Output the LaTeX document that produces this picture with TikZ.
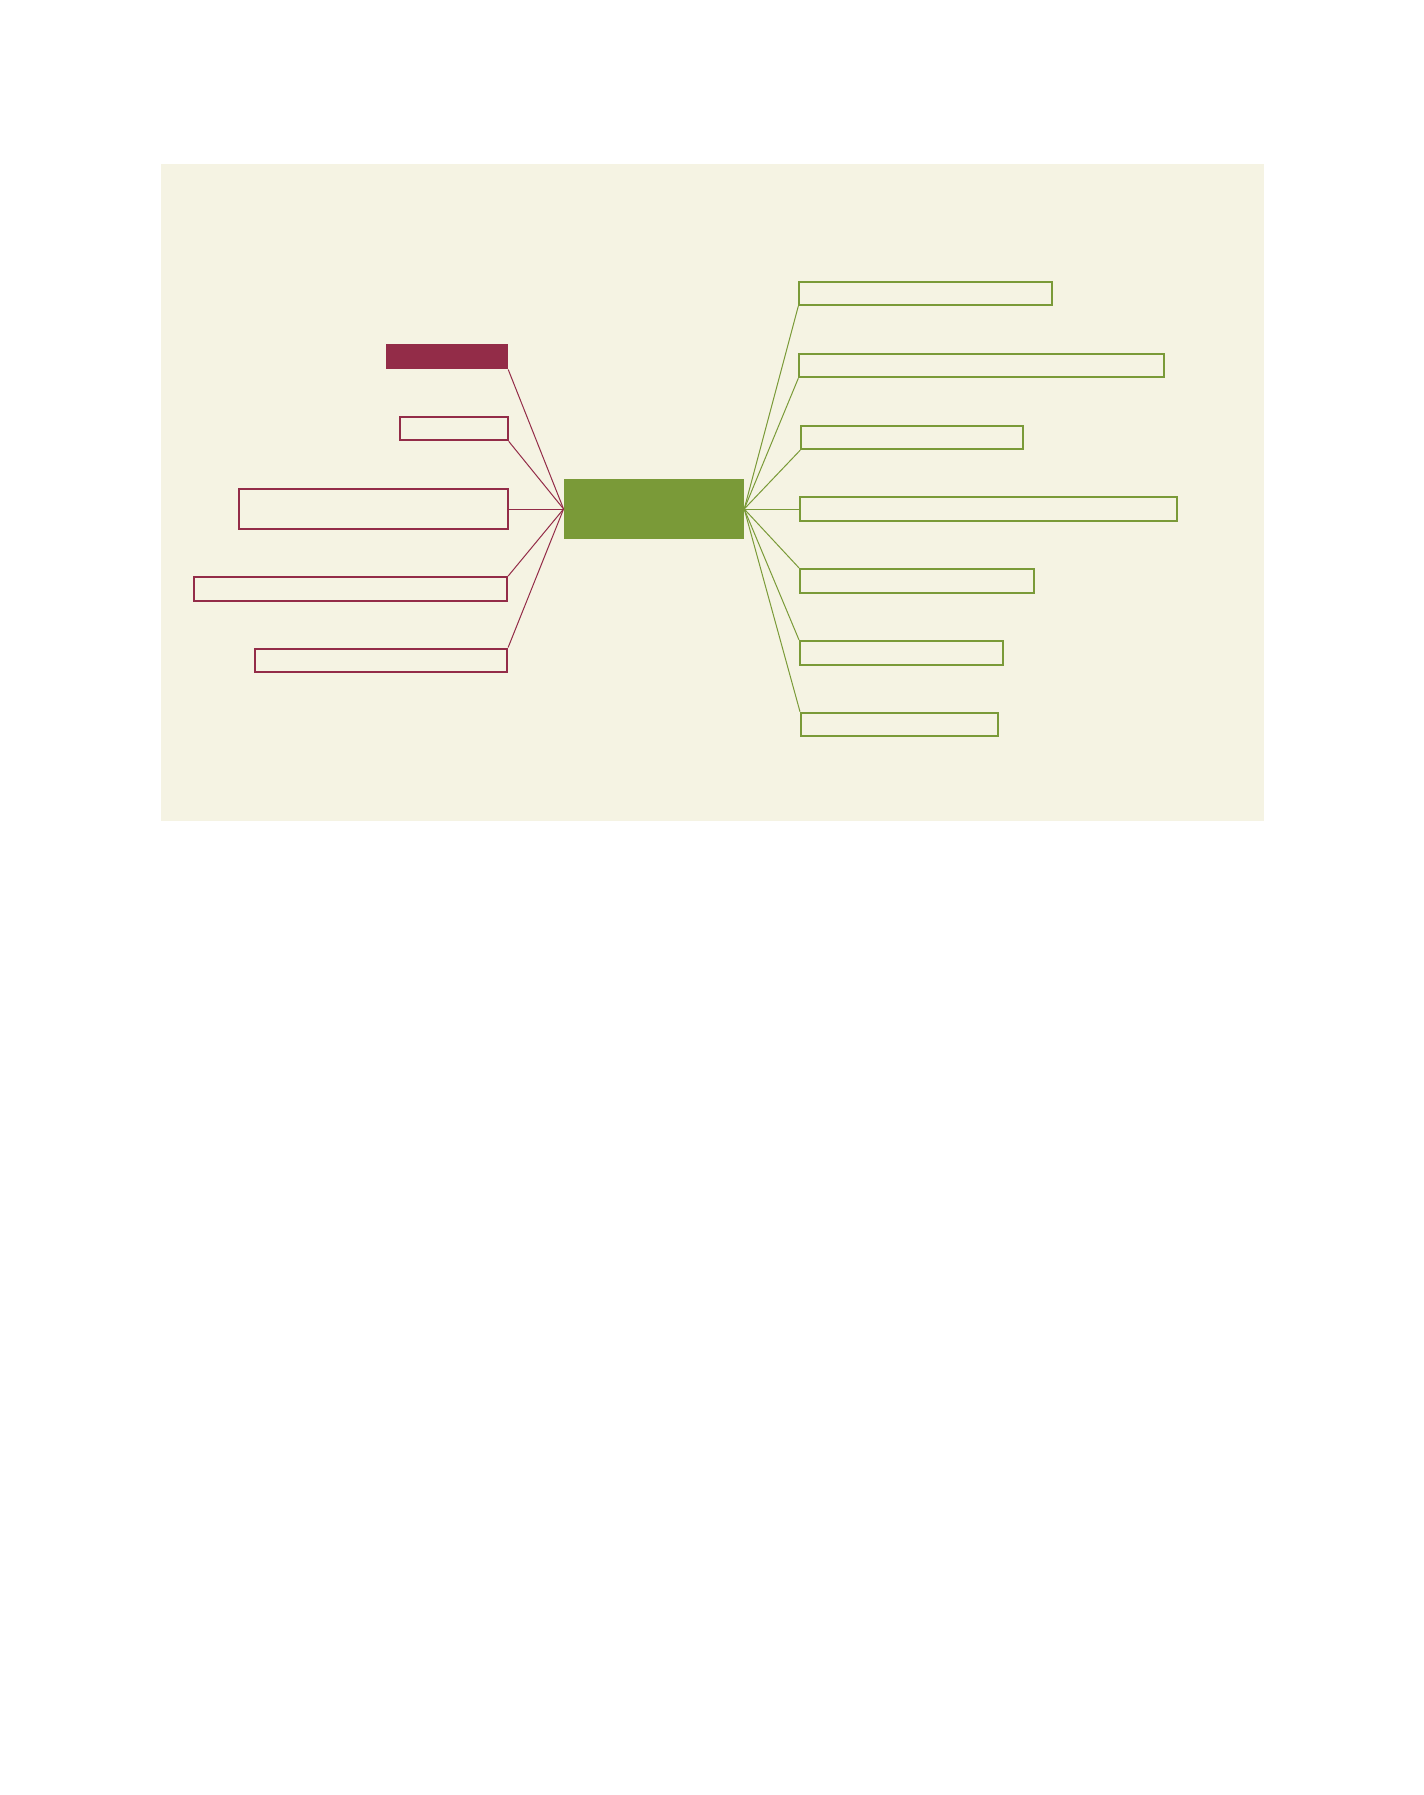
\documentclass[tikz,border=0pt]{standalone}
\usepackage{tikz}
\definecolor{paper}{HTML}{F5F3E3}
\definecolor{leaf}{HTML}{7A9A38}
\definecolor{wine}{HTML}{932C48}

\begin{document}
\begin{tikzpicture}[x=0.5pt, y=-0.5pt,
    box/.style = {rectangle, inner sep=0pt, minimum height=11.8pt},
    topic/.style = {box, fill=leaf, minimum width=89.9pt, minimum height=29.7pt},
    lbox/.style = {box, draw=wine, line width=1pt, minimum width=#1},
    rbox/.style = {box, draw=leaf, line width=1pt, minimum width=#1},
    lline/.style = {wine, line width=0.5pt},
    rline/.style = {leaf, line width=0.5pt}]
\useasboundingbox (0,0) rectangle (1424,1795);
\fill[paper] (161,164.3) rectangle (1264,821);
% centre
\node[topic] (main) at (653.9,509) {};
% left side
\node[box, fill=wine, minimum width=60.9pt, minimum height=12.4pt] (l1) at (446.9,356.7) {};
\node[lbox=53.7pt] (l2) at (454,428.5) {};
\node[lbox=134.5pt, minimum height=20pt] (l3) at (373.2,509) {};
\node[lbox=156.4pt] (l4) at (350.7,588.9) {};
\node[lbox=125.9pt] (l5) at (381.2,660.3) {};
% right side
\node[rbox=126.5pt] (r1) at (925.8,293.3) {};
\node[rbox=182.4pt] (r2) at (981.7,365.5) {};
\node[rbox=111pt] (r3) at (912.3,437.3) {};
\node[rbox=188.5pt] (r4) at (988.5,509) {};
\node[rbox=117.2pt] (r5) at (917.2,580.7) {};
\node[rbox=101.7pt] (r6) at (901.7,652.7) {};
\node[rbox=98.7pt] (r7) at (899.7,724.5) {};
\draw[lline] (main.west) -- (l1.south east);
\draw[lline] (main.west) -- (l2.south east);
\draw[lline] (main.west) -- (l3.east);
\draw[lline] (main.west) -- (l4.north east);
\draw[lline] (main.west) -- (l5.north east);
\draw[rline] (main.east) -- (r1.south west);
\draw[rline] (main.east) -- (r2.south west);
\draw[rline] (main.east) -- (r3.south west);
\draw[rline] (main.east) -- (r4.west);
\draw[rline] (main.east) -- (r5.north west);
\draw[rline] (main.east) -- (r6.north west);
\draw[rline] (main.east) -- (r7.north west);
\end{tikzpicture}
\end{document}
